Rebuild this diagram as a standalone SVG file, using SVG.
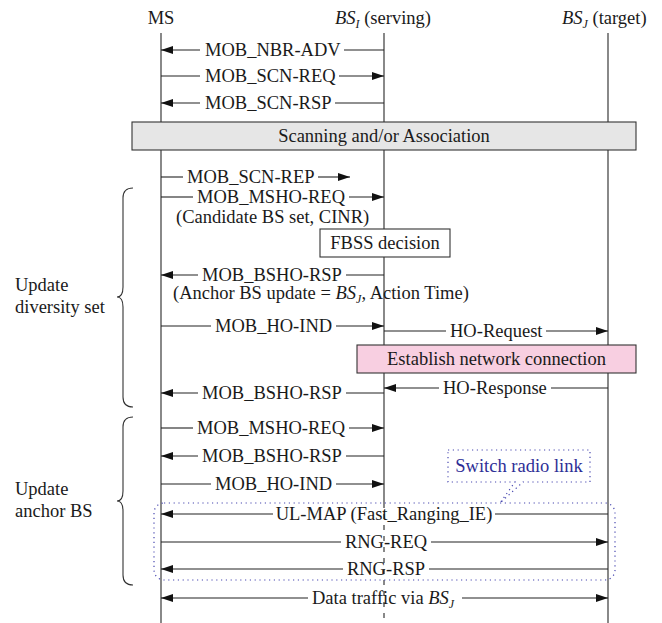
<svg xmlns="http://www.w3.org/2000/svg" width="662" height="623" viewBox="0 0 662 623">
<style>
text{font-family:"Liberation Serif","Times New Roman",serif;font-size:18.5px;fill:#1a1a1a}
.life{stroke:#3a3a3a;stroke-width:1.2;fill:none}
.m{stroke:#222;stroke-width:1.1;fill:none}
.ar{marker-end:url(#ah)}
.box{stroke:#333;stroke-width:1.1}
.dot{stroke:#4848b0;stroke-width:1.2;stroke-dasharray:1.2 3.6;fill:none}
.brace{stroke:#333;stroke-width:1.1;fill:none}
.it{font-style:italic}
.sub{font-style:italic;font-size:12px}
.c{text-anchor:middle}
</style>
<defs>
<marker id="ah" markerUnits="userSpaceOnUse" markerWidth="12" markerHeight="8" refX="12" refY="4" orient="auto-start-reverse">
<path d="M0,0 L12,4 L0,8 Z" fill="#111"/>
</marker>
</defs>

<g id="lifelines">
<g id="node-ms"><text x="161" y="24" class="c">MS</text><line class="life" x1="161" y1="33" x2="161" y2="623"/></g>
<g id="node-bsi"><text x="335" y="24"><tspan class="it">BS</tspan><tspan class="sub" dy="4">I</tspan><tspan dy="-4"> (serving)</tspan></text>
<line class="life" x1="384" y1="33" x2="384" y2="503"/>
<line class="life" x1="384" y1="503" x2="384" y2="623" stroke-dasharray="5 6"/></g>
<g id="node-bsj"><text x="562" y="24"><tspan class="it">BS</tspan><tspan class="sub" dy="4">J</tspan><tspan dy="-4"> (target)</tspan></text><line class="life" x1="608" y1="33" x2="608" y2="623"/></g>
</g>

<g id="node-scanning"><rect class="box" x="132" y="122" width="504" height="28" fill="#e6e6e6"/><text x="384" y="142" class="c">Scanning and/or Association</text></g>
<g id="node-fbss"><rect class="box" x="320" y="229" width="130" height="28" fill="#fff"/><text x="385" y="249" class="c">FBSS decision</text></g>
<g id="node-establish"><rect class="box" x="357" y="345" width="279" height="28" fill="#f8cfe1"/><text x="496.5" y="365" class="c">Establish network connection</text></g>

<g id="node-radio-region"><rect class="dot" x="154" y="503" width="461" height="77" rx="10"/></g>
<g id="node-switch"><path class="dot" d="M448,450 H590 V482 H523 L500,503 L515,482 H448 Z" fill="#fff"/><text x="519" y="472" class="c" style="fill:#2e2e96">Switch radio link</text></g>

<g id="brace-diversity"><path class="brace" d="M133,188 Q123,188 123,198 V287 Q123,297 117,297 Q123,297 123,307 V397 Q123,407 133,407"/>
<text x="15" y="291">Update</text><text x="15" y="313">diversity set</text></g>
<g id="brace-anchor"><path class="brace" d="M133,417 Q123,417 123,427 V491 Q123,501 117,501 Q123,501 123,511 V575 Q123,585 133,585"/>
<text x="15" y="495">Update</text><text x="15" y="517">anchor BS</text></g>

<g id="connectors">
<line class="m ar" x1="200" y1="50" x2="161" y2="50"/><line class="m" x1="344" y1="50" x2="384" y2="50"/><text x="205" y="56">MOB_NBR-ADV</text>
<line class="m" x1="161" y1="76" x2="200" y2="76"/><line class="m ar" x1="339" y1="76" x2="384" y2="76"/><text x="205" y="82">MOB_SCN-REQ</text>
<line class="m ar" x1="200" y1="103" x2="161" y2="103"/><line class="m" x1="335" y1="103" x2="384" y2="103"/><text x="205" y="109">MOB_SCN-RSP</text>
<line class="m" x1="161" y1="177" x2="183" y2="177"/><line class="m ar" x1="318" y1="177" x2="350" y2="177"/><text x="187" y="183">MOB_SCN-REP</text>
<line class="m" x1="161" y1="197" x2="193" y2="197"/><line class="m ar" x1="349" y1="197" x2="384" y2="197"/><text x="197" y="203">MOB_MSHO-REQ</text>
<text x="176" y="223">(Candidate BS set, CINR)</text>
<line class="m ar" x1="198" y1="275" x2="161" y2="275"/><line class="m" x1="346" y1="275" x2="384" y2="275"/><text x="202" y="281">MOB_BSHO-RSP</text>
<text x="173" y="299">(Anchor BS update = <tspan class="it">BS</tspan><tspan class="sub" dy="4">J</tspan><tspan dy="-4">, Action Time)</tspan></text>
<line class="m" x1="161" y1="326" x2="211" y2="326"/><line class="m ar" x1="336" y1="326" x2="384" y2="326"/><text x="215" y="332">MOB_HO-IND</text>
<line class="m" x1="384" y1="331" x2="446" y2="331"/><line class="m ar" x1="546" y1="331" x2="608" y2="331"/><text x="450" y="337">HO-Request</text>
<line class="m ar" x1="439" y1="388" x2="384" y2="388"/><line class="m" x1="551" y1="388" x2="608" y2="388"/><text x="443" y="394">HO-Response</text>
<line class="m ar" x1="198" y1="393" x2="161" y2="393"/><line class="m" x1="346" y1="393" x2="384" y2="393"/><text x="202" y="399">MOB_BSHO-RSP</text>
<line class="m" x1="161" y1="428" x2="193" y2="428"/><line class="m ar" x1="349" y1="428" x2="384" y2="428"/><text x="197" y="434">MOB_MSHO-REQ</text>
<line class="m ar" x1="198" y1="456" x2="161" y2="456"/><line class="m" x1="346" y1="456" x2="384" y2="456"/><text x="202" y="462">MOB_BSHO-RSP</text>
<line class="m" x1="161" y1="484" x2="211" y2="484"/><line class="m ar" x1="336" y1="484" x2="384" y2="484"/><text x="215" y="490">MOB_HO-IND</text>
<line class="m ar" x1="273" y1="514" x2="161" y2="514"/><line class="m" x1="495" y1="514" x2="608" y2="514"/><text x="384" y="520" class="c">UL-MAP (Fast_Ranging_IE)</text>
<line class="m" x1="161" y1="542" x2="341" y2="542"/><line class="m ar" x1="431" y1="542" x2="608" y2="542"/><text x="386" y="548" class="c">RNG-REQ</text>
<line class="m ar" x1="343" y1="569" x2="161" y2="569"/><line class="m" x1="429" y1="569" x2="608" y2="569"/><text x="386" y="575" class="c">RNG-RSP</text>
<line class="m ar" x1="308" y1="598" x2="161" y2="598"/><line class="m ar" x1="462" y1="598" x2="608" y2="598"/><text x="312" y="604">Data traffic via <tspan class="it">BS</tspan><tspan class="sub" dy="4">J</tspan></text>
</g>
</svg>
